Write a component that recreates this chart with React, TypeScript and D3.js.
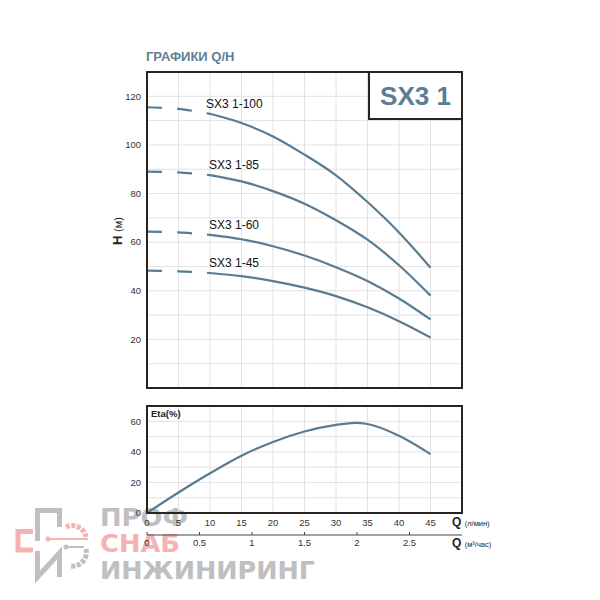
// @ts-nocheck
import React, { useEffect, useRef } from "react";
import * as d3 from "d3";

// Q/H data (flow in l/min, head in m)
const flowLpm = [0, 5, 10, 15, 20, 25, 30, 35, 40, 45];
const models = ["SX3 1-100", "SX3 1-85", "SX3 1-60", "SX3 1-45"];
const head100 = [115.5, 114.8, 112.8, 109, 103.5, 96, 87.5, 76.5, 64, 49.5];
const head85 = [89, 88.7, 87.6, 85, 81, 75.8, 69, 61, 50.5, 38];
const head60 = [64.3, 64, 63, 61.2, 58.3, 54.5, 49.7, 44, 36.8, 28.2];
const head45 = [48.3, 48, 47.3, 46, 44, 41.3, 37.8, 33.2, 27.5, 20.8];

// efficiency curve
const etaFlow = [0, 5, 10, 15, 20, 25, 30, 33, 35, 40, 45];
const etaValues = [0, 13.4, 26, 37.5, 46.5, 53.3, 57.6, 59, 58.2, 50.5, 38.5];

// ticks
const headTicks = [20, 40, 60, 80, 100, 120];
const etaTicks = [0, 20, 40, 60];
const flowTicks = [0, 5, 10, 15, 20, 25, 30, 35, 40, 45];
const m3Ticks = [0, 0.5, 1, 1.5, 2, 2.5];

const FONT = "'Liberation Sans', Arial, sans-serif";
const BLUE = "#5a7b90";
const FRAME = "#2b241c";
const GRID = "#e2e2e2";

function App() {
  const ref = useRef(null);

  useEffect(() => {
    const svg = d3.select(ref.current);
    svg.selectAll("*").remove();

    const left = 147,
      right = 462;
    const x = d3.scaleLinear().domain([0, 50]).range([left, right]);
    const xM = d3.scaleLinear().domain([0, 3]).range([left, right]);
    const yH = d3.scaleLinear().domain([0, 130]).range([388, 72]);
    const yE = d3.scaleLinear().domain([0, 70]).range([513, 406]);

    // ---- watermark (logo) ----
    const wm = svg.append("g").attr("opacity", 0.85);
    const grayC = "#b4b4b4",
      pinkC = "#f4a5a5";
    wm.append("path")
      .attr("d", "M37.5,541 V510.5 H59.5 V527")
      .attr("fill", "none").attr("stroke", grayC).attr("stroke-width", 5);
    wm.append("path")
      .attr("d", "M33,531.5 H18 V550 H33")
      .attr("fill", "none").attr("stroke", pinkC).attr("stroke-width", 5);
    wm.append("path")
      .attr("d", "M66,527 A14,14 0 0 1 86,537")
      .attr("fill", "none").attr("stroke", pinkC).attr("stroke-width", 5).attr("stroke-dasharray", "4 1.5");
    wm.append("line").attr("x1", 48).attr("x2", 88).attr("y1", 539).attr("y2", 539)
      .attr("stroke", pinkC).attr("stroke-width", 2);
    wm.append("circle").attr("cx", 48).attr("cy", 539).attr("r", 2.5).attr("fill", pinkC);
    wm.append("line").attr("x1", 66).attr("x2", 84).attr("y1", 547).attr("y2", 547)
      .attr("stroke", grayC).attr("stroke-width", 2);
    wm.append("circle").attr("cx", 66).attr("cy", 547).attr("r", 2.5).attr("fill", grayC);
    wm.append("path")
      .attr("d", "M86,549 A14,14 0 0 1 70,566")
      .attr("fill", "none").attr("stroke", grayC).attr("stroke-width", 5).attr("stroke-dasharray", "4 1.5");
    wm.append("path")
      .attr("d", "M37.5,551 V577 L59.5,553 V577")
      .attr("fill", "none").attr("stroke", grayC).attr("stroke-width", 5);
    const wmText = [
      { t: "ПРОФ", y: 526, c: grayC, w: 88 },
      { t: "СНАБ", y: 552, c: pinkC, w: 80 },
      { t: "ИНЖИНИРИНГ", y: 579, c: grayC, w: 215 },
    ];
    wmText.forEach((d) => {
      wm.append("text")
        .attr("x", 100).attr("y", d.y)
        .attr("font-family", "'DejaVu Sans', sans-serif")
        .attr("font-size", 24)
        .attr("font-weight", "bold")
        .attr("fill", d.c)
        .attr("textLength", d.w)
        .attr("lengthAdjust", "spacingAndGlyphs")
        .text(d.t);
    });

    // ---- title ----
    svg.append("text")
      .attr("x", 146).attr("y", 61)
      .attr("font-family", FONT).attr("font-size", 13).attr("font-weight", "bold")
      .attr("fill", "#5f7f95")
      .text("ГРАФИКИ Q/H");

    // ---- top chart: grid ----
    const top = svg.append("g");
    top.selectAll(".hg")
      .data(d3.range(10, 130, 10))
      .enter().append("line")
      .attr("x1", left).attr("x2", right)
      .attr("y1", (d) => yH(d)).attr("y2", (d) => yH(d))
      .attr("stroke", GRID).attr("stroke-width", 1);
    top.selectAll(".vg")
      .data(d3.range(5, 50, 5))
      .enter().append("line")
      .attr("x1", (d) => x(d)).attr("x2", (d) => x(d))
      .attr("y1", yH(130)).attr("y2", yH(0))
      .attr("stroke", GRID).attr("stroke-width", 1);

    // y tick labels
    top.selectAll(".yt")
      .data(headTicks)
      .enter().append("text")
      .attr("x", 141).attr("y", (d) => yH(d))
      .attr("dy", "0.35em")
      .attr("text-anchor", "end")
      .attr("font-family", FONT).attr("font-size", 9.5).attr("fill", "#333")
      .text((d) => d);

    // H (м)
    const hl = top.append("text")
      .attr("transform", "translate(122,231) rotate(-90)")
      .attr("text-anchor", "middle")
      .attr("font-family", FONT).attr("fill", "#222");
    hl.append("tspan").attr("font-size", 13).attr("font-weight", "bold").text("H ");
    hl.append("tspan").attr("font-size", 11).text("(м)");

    // curves: dashed up to 10 l/min, solid after
    const heads = [head100, head85, head60, head45];
    const line = d3.line().x((d) => x(d[0])).y((d) => yH(d[1])).curve(d3.curveCatmullRom);
    heads.forEach((h, i) => {
      const pts = flowLpm.map((q, j) => [q, h[j]]);
      top.append("path")
        .attr("d", line(pts.filter((p) => p[0] <= 10)))
        .attr("fill", "none").attr("stroke", BLUE).attr("stroke-width", 2.2)
        .attr("stroke-dasharray", "15 15");
      top.append("path")
        .attr("d", line(pts.filter((p) => p[0] >= 10)))
        .attr("fill", "none").attr("stroke", BLUE).attr("stroke-width", 2.2);
      top.append("text")
        .attr("x", x(10) - (i === 0 ? 4 : 1))
        .attr("y", yH(h[2]) - 6)
        .attr("font-family", FONT).attr("font-size", 12).attr("fill", "#111")
        .text(models[i]);
    });

    // frame + model box
    top.append("rect")
      .attr("x", left).attr("y", yH(130))
      .attr("width", right - left).attr("height", yH(0) - yH(130))
      .attr("fill", "none").attr("stroke", FRAME).attr("stroke-width", 2);
    top.append("rect")
      .attr("x", 369).attr("y", yH(130))
      .attr("width", right - 369).attr("height", 47)
      .attr("fill", "#fff").attr("stroke", FRAME).attr("stroke-width", 2);
    top.append("text")
      .attr("x", (369 + right) / 2).attr("y", 105)
      .attr("text-anchor", "middle")
      .attr("font-family", FONT).attr("font-size", 26).attr("font-weight", "bold")
      .attr("fill", "#5c7d93")
      .text("SX3 1");

    // ---- bottom chart ----
    const bot = svg.append("g");
    bot.selectAll(".hg")
      .data(d3.range(10, 70, 10))
      .enter().append("line")
      .attr("x1", left).attr("x2", right)
      .attr("y1", (d) => yE(d)).attr("y2", (d) => yE(d))
      .attr("stroke", GRID).attr("stroke-width", 1);
    bot.selectAll(".vg")
      .data(d3.range(5, 50, 5))
      .enter().append("line")
      .attr("x1", (d) => x(d)).attr("x2", (d) => x(d))
      .attr("y1", yE(70)).attr("y2", yE(0))
      .attr("stroke", GRID).attr("stroke-width", 1);

    bot.selectAll(".yt")
      .data(etaTicks)
      .enter().append("text")
      .attr("x", 141).attr("y", (d) => yE(d))
      .attr("dy", "0.35em")
      .attr("text-anchor", "end")
      .attr("font-family", FONT).attr("font-size", 9.5).attr("fill", "#333")
      .text((d) => d);

    const etaLine = d3.line().x((d) => x(d[0])).y((d) => yE(d[1])).curve(d3.curveMonotoneX);
    bot.append("path")
      .attr("d", etaLine(etaFlow.map((q, j) => [q, etaValues[j]])))
      .attr("fill", "none").attr("stroke", BLUE).attr("stroke-width", 2.2);

    bot.append("rect")
      .attr("x", left).attr("y", yE(70))
      .attr("width", right - left).attr("height", yE(0) - yE(70))
      .attr("fill", "none").attr("stroke", FRAME).attr("stroke-width", 2);
    bot.append("text")
      .attr("x", 151).attr("y", 417)
      .attr("font-family", FONT).attr("font-size", 9.5).attr("font-weight", "bold")
      .attr("fill", "#222")
      .text("Eta(%)");

    // flow axis (l/min)
    bot.selectAll(".xt")
      .data(flowTicks)
      .enter().append("text")
      .attr("x", (d) => x(d)).attr("y", 526)
      .attr("text-anchor", "middle")
      .attr("font-family", FONT).attr("font-size", 9.5).attr("fill", "#333")
      .text((d) => d);
    const q1 = bot.append("text").attr("x", 452).attr("y", 526).attr("font-family", FONT).attr("fill", "#222");
    q1.append("tspan").attr("font-size", 12).attr("font-weight", "bold").text("Q ");
    q1.append("tspan").attr("font-size", 7.5).text("(л/мин)");

    // flow axis (m3/h)
    bot.append("line")
      .attr("x1", left).attr("x2", right).attr("y1", 535).attr("y2", 535)
      .attr("stroke", "#444").attr("stroke-width", 1);
    bot.selectAll(".mt")
      .data(m3Ticks)
      .enter().append("line")
      .attr("x1", (d) => xM(d)).attr("x2", (d) => xM(d))
      .attr("y1", 532).attr("y2", 535)
      .attr("stroke", "#444").attr("stroke-width", 1);
    bot.selectAll(".ml")
      .data(m3Ticks)
      .enter().append("text")
      .attr("x", (d) => xM(d)).attr("y", 546)
      .attr("text-anchor", "middle")
      .attr("font-family", FONT).attr("font-size", 9.5).attr("fill", "#333")
      .text((d) => d);
    const q2 = bot.append("text").attr("x", 452).attr("y", 547).attr("font-family", FONT).attr("fill", "#222");
    q2.append("tspan").attr("font-size", 12).attr("font-weight", "bold").text("Q ");
    q2.append("tspan").attr("font-size", 7.5).text("(м³/час)");
  }, []);

  return (
    <svg
      ref={ref}
      width={600}
      height={600}
      style={{ position: "absolute", left: 0, top: 0, background: "#fff" }}
    />
  );
}

export default App;
